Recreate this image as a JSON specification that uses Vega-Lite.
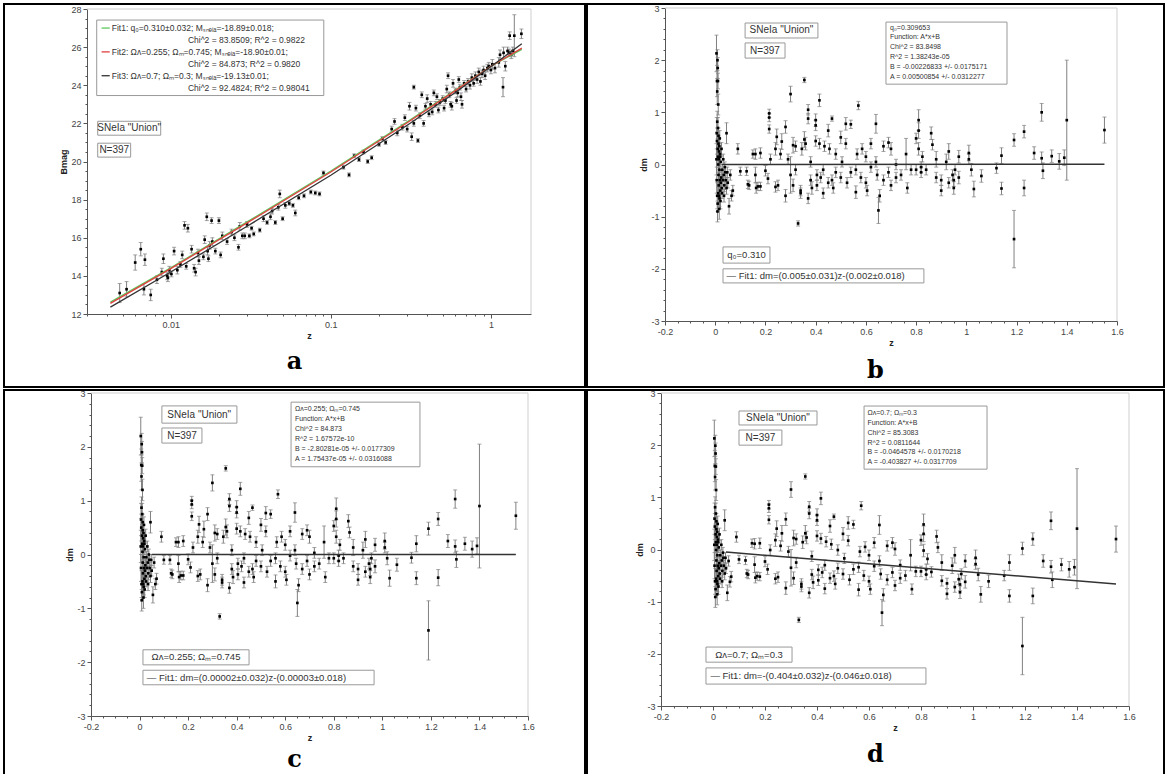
{
"$schema": "https://vega.github.io/schema/vega-lite/v6.json",
"background": "white",
"padding": {"left": 3, "top": 3, "right": 0, "bottom": 0},
"spacing": 0,
"config": {
 "view": {"stroke": "black", "strokeWidth": 2},
 "concat": {"spacing": 0},
 "axis": {"grid": false, "domainColor": "#555", "tickColor": "#555", "labelColor": "#444", "labelFont": "Liberation Sans", "labelFontSize": 9, "titleFont": "Liberation Sans", "titleFontSize": 9, "titleFontWeight": "bold", "titleColor": "#222", "labelPadding": 2, "titlePadding": 2, "labelOverlap": false, "labelFlush": false},
 "title": {"font": "DejaVu Serif", "fontSize": 24, "fontWeight": "bold", "color": "black", "orient": "bottom", "frame": "group", "anchor": "middle"},
 "text": {"font": "Liberation Sans", "color": "#333"},
 "rect": {"fill": "white", "stroke": "#999", "strokeWidth": 1}
},
"datasets": {
 "mag": [
{"z":0.0048,"m":13.1,"e":0.5},{"z":0.0053,"m":13.3,"e":0.4},{"z":0.006,"m":14.7,"e":0.4},{"z":0.0065,"m":15.4,"e":0.35},{"z":0.0069,"m":14.85,"e":0.3},{"z":0.0068,"m":13.3,"e":0.3},{"z":0.0075,"m":13.0,"e":0.3},{"z":0.0082,"m":13.8,"e":0.2},{"z":0.009,"m":14.9,"e":0.25},{"z":0.0088,"m":14.2,"e":0.2},{"z":0.0095,"m":14.0,"e":0.2},{"z":0.0096,"m":13.9,"e":0.2},{"z":0.0098,"m":14.3,"e":0.2},{"z":0.0101,"m":14.1,"e":0.15},{"z":0.0105,"m":15.3,"e":0.2},{"z":0.011,"m":14.3,"e":0.2},{"z":0.0115,"m":14.6,"e":0.15},{"z":0.0118,"m":15.1,"e":0.2},{"z":0.0122,"m":16.65,"e":0.2},{"z":0.0128,"m":16.5,"e":0.2},{"z":0.0125,"m":14.5,"e":0.15},{"z":0.0135,"m":15.4,"e":0.2},{"z":0.014,"m":14.4,"e":0.2},{"z":0.0143,"m":14.2,"e":0.2},{"z":0.0148,"m":15.2,"e":0.2},{"z":0.015,"m":14.8,"e":0.2},{"z":0.016,"m":15.0,"e":0.15},{"z":0.0163,"m":15.9,"e":0.2},{"z":0.017,"m":15.3,"e":0.2},{"z":0.0168,"m":17.1,"e":0.2},{"z":0.018,"m":16.9,"e":0.15},{"z":0.0172,"m":14.9,"e":0.15},{"z":0.0175,"m":15.6,"e":0.2},{"z":0.0182,"m":15.8,"e":0.2},{"z":0.019,"m":15.3,"e":0.15},{"z":0.02,"m":16.9,"e":0.15},{"z":0.0205,"m":15.1,"e":0.15},{"z":0.021,"m":16.1,"e":0.2},{"z":0.0225,"m":15.8,"e":0.15},{"z":0.024,"m":16.3,"e":0.15},{"z":0.025,"m":16.0,"e":0.15},{"z":0.0265,"m":15.5,"e":0.15},{"z":0.027,"m":16.6,"e":0.2},{"z":0.028,"m":16.1,"e":0.15},{"z":0.029,"m":16.1,"e":0.15},{"z":0.03,"m":16.7,"e":0.15},{"z":0.031,"m":16.1,"e":0.1},{"z":0.032,"m":16.5,"e":0.1},{"z":0.033,"m":16.2,"e":0.1},{"z":0.036,"m":16.4,"e":0.1},{"z":0.038,"m":17.0,"e":0.15},{"z":0.04,"m":16.8,"e":0.1},{"z":0.042,"m":17.1,"e":0.15},{"z":0.043,"m":17.4,"e":0.15},{"z":0.045,"m":16.8,"e":0.1},{"z":0.047,"m":17.6,"e":0.15},{"z":0.048,"m":18.3,"e":0.2},{"z":0.05,"m":17.0,"e":0.1},{"z":0.052,"m":17.7,"e":0.15},{"z":0.055,"m":17.8,"e":0.1},{"z":0.058,"m":17.7,"e":0.1},{"z":0.06,"m":17.3,"e":0.15},{"z":0.063,"m":18.1,"e":0.1},{"z":0.068,"m":18.2,"e":0.1},{"z":0.075,"m":18.4,"e":0.1},{"z":0.08,"m":18.35,"e":0.1},{"z":0.085,"m":18.3,"e":0.1},{"z":0.09,"m":19.4,"e":0.1},{"z":0.12,"m":19.7,"e":0.1},{"z":0.13,"m":19.3,"e":0.1},{"z":0.14,"m":20.3,"e":0.1},{"z":0.15,"m":20.1,"e":0.1},{"z":0.16,"m":20.5,"e":0.1},{"z":0.17,"m":20.0,"e":0.1},{"z":0.18,"m":20.2,"e":0.1},{"z":0.2,"m":20.9,"e":0.1},{"z":0.21,"m":21.2,"e":0.1},{"z":0.22,"m":21.0,"e":0.1},{"z":0.24,"m":21.7,"e":0.15},{"z":0.25,"m":22.1,"e":0.15},{"z":0.26,"m":21.5,"e":0.15},{"z":0.28,"m":21.8,"e":0.15},{"z":0.29,"m":22.3,"e":0.15},{"z":0.3,"m":21.7,"e":0.15},{"z":0.31,"m":22.9,"e":0.2},{"z":0.32,"m":21.3,"e":0.2},{"z":0.33,"m":22.0,"e":0.15},{"z":0.33,"m":23.9,"e":0.1},{"z":0.34,"m":22.8,"e":0.15},{"z":0.35,"m":21.1,"e":0.1},{"z":0.36,"m":22.4,"e":0.15},{"z":0.37,"m":23.5,"e":0.15},{"z":0.38,"m":22.0,"e":0.15},{"z":0.39,"m":22.9,"e":0.15},{"z":0.4,"m":23.3,"e":0.2},{"z":0.41,"m":22.5,"e":0.15},{"z":0.42,"m":23.0,"e":0.15},{"z":0.43,"m":22.6,"e":0.15},{"z":0.44,"m":23.6,"e":0.15},{"z":0.45,"m":23.0,"e":0.15},{"z":0.46,"m":23.4,"e":0.15},{"z":0.47,"m":22.7,"e":0.15},{"z":0.48,"m":23.1,"e":0.15},{"z":0.5,"m":23.3,"e":0.15},{"z":0.51,"m":22.8,"e":0.15},{"z":0.52,"m":23.2,"e":0.15},{"z":0.53,"m":23.8,"e":0.2},{"z":0.54,"m":24.5,"e":0.15},{"z":0.55,"m":23.5,"e":0.15},{"z":0.56,"m":23.0,"e":0.15},{"z":0.57,"m":22.9,"e":0.2},{"z":0.58,"m":24.1,"e":0.2},{"z":0.6,"m":23.7,"e":0.15},{"z":0.61,"m":23.2,"e":0.15},{"z":0.62,"m":23.6,"e":0.2},{"z":0.63,"m":24.3,"e":0.15},{"z":0.64,"m":23.9,"e":0.15},{"z":0.65,"m":23.4,"e":0.2},{"z":0.66,"m":23.0,"e":0.2},{"z":0.68,"m":24.1,"e":0.15},{"z":0.7,"m":23.8,"e":0.15},{"z":0.72,"m":24.2,"e":0.15},{"z":0.74,"m":24.0,"e":0.2},{"z":0.76,"m":24.4,"e":0.2},{"z":0.78,"m":24.1,"e":0.15},{"z":0.8,"m":24.5,"e":0.2},{"z":0.82,"m":24.3,"e":0.2},{"z":0.84,"m":24.7,"e":0.2},{"z":0.86,"m":24.2,"e":0.2},{"z":0.88,"m":24.6,"e":0.2},{"z":0.9,"m":24.8,"e":0.2},{"z":0.92,"m":24.5,"e":0.2},{"z":0.95,"m":24.9,"e":0.2},{"z":0.97,"m":25.0,"e":0.2},{"z":1.0,"m":24.8,"e":0.2},{"z":1.02,"m":25.1,"e":0.25},{"z":1.06,"m":24.9,"e":0.25},{"z":1.12,"m":25.2,"e":0.25},{"z":1.14,"m":25.6,"e":0.25},{"z":1.19,"m":23.9,"e":0.5},{"z":1.2,"m":25.7,"e":0.3},{"z":1.23,"m":25.0,"e":0.25},{"z":1.27,"m":25.8,"e":0.2},{"z":1.3,"m":25.7,"e":0.2},{"z":1.31,"m":26.6,"e":0.2},{"z":1.34,"m":25.6,"e":0.2},{"z":1.37,"m":25.8,"e":0.2},{"z":1.4,"m":26.6,"e":1.1},{"z":1.55,"m":26.7,"e":0.25}
 ],
 "fits": [
{"f":"Fit1","z":0.0042,"m":12.62},{"f":"Fit1","z":0.01,"m":14.42},{"f":"Fit1","z":0.03,"m":16.83},{"f":"Fit1","z":0.1,"m":19.5},{"f":"Fit1","z":0.3,"m":22.08},{"f":"Fit1","z":0.6,"m":23.75},{"f":"Fit1","z":1.0,"m":25.0},{"f":"Fit1","z":1.56,"m":25.88},
{"f":"Fit2","z":0.0042,"m":12.56},{"f":"Fit2","z":0.01,"m":14.38},{"f":"Fit2","z":0.03,"m":16.78},{"f":"Fit2","z":0.1,"m":19.45},{"f":"Fit2","z":0.3,"m":22.03},{"f":"Fit2","z":0.6,"m":23.72},{"f":"Fit2","z":1.0,"m":25.0},{"f":"Fit2","z":1.56,"m":25.95},
{"f":"Fit3","z":0.0042,"m":12.36},{"f":"Fit3","z":0.01,"m":14.2},{"f":"Fit3","z":0.03,"m":16.6},{"f":"Fit3","z":0.1,"m":19.28},{"f":"Fit3","z":0.3,"m":21.9},{"f":"Fit3","z":0.6,"m":23.62},{"f":"Fit3","z":1.0,"m":24.98},{"f":"Fit3","z":1.56,"m":26.18}
 ],
 "sn": [
{"z":0.005,"b":2.13,"c":2.2,"d":2.13,"e":0.35},{"z":0.007,"b":1.6,"c":1.66,"d":1.6,"e":0.3},{"z":0.008,"b":1.4,"c":1.45,"d":1.39,"e":0.25},{"z":0.009,"b":2.0,"c":2.05,"d":1.99,"e":0.2},{"z":0.01,"b":1.85,"c":1.9,"d":1.84,"e":0.2},{"z":0.011,"b":1.6,"c":1.65,"d":1.59,"e":0.15},{"z":0.012,"b":1.15,"c":1.2,"d":1.14,"e":0.2},{"z":0.006,"b":0.6,"c":0.65,"d":0.59,"e":0.3},{"z":0.007,"b":0.45,"c":0.5,"d":0.44,"e":0.25},{"z":0.008,"b":0.82,"c":0.87,"d":0.81,"e":0.2},{"z":0.01,"b":0.3,"c":0.35,"d":0.29,"e":0.2},{"z":0.011,"b":0.15,"c":0.2,"d":0.14,"e":0.15},{"z":0.012,"b":0.0,"c":0.05,"d":-0.01,"e":0.15},{"z":0.013,"b":-0.2,"c":-0.15,"d":-0.21,"e":0.15},{"z":0.014,"b":-0.4,"c":-0.35,"d":-0.41,"e":0.2},{"z":0.015,"b":-0.6,"c":-0.55,"d":-0.61,"e":0.2},{"z":0.009,"b":-0.9,"c":-0.85,"d":-0.91,"e":0.2},{"z":0.01,"b":-0.75,"c":-0.7,"d":-0.76,"e":0.15},{"z":0.016,"b":0.35,"c":0.4,"d":0.34,"e":0.15},{"z":0.017,"b":-0.1,"c":-0.05,"d":-0.11,"e":0.15},{"z":0.018,"b":-0.3,"c":-0.25,"d":-0.31,"e":0.15},{"z":0.019,"b":0.2,"c":0.25,"d":0.19,"e":0.15},{"z":0.02,"b":-0.5,"c":-0.45,"d":-0.51,"e":0.15},{"z":0.021,"b":-0.7,"c":-0.65,"d":-0.71,"e":0.15},{"z":0.022,"b":0.05,"c":0.1,"d":0.04,"e":0.1},{"z":0.024,"b":-0.25,"c":-0.2,"d":-0.26,"e":0.12},{"z":0.025,"b":0.3,"c":0.35,"d":0.29,"e":0.12},{"z":0.026,"b":-0.45,"c":-0.4,"d":-0.46,"e":0.12},{"z":0.028,"b":-0.1,"c":-0.05,"d":-0.11,"e":0.1},{"z":0.03,"b":-0.3,"c":-0.25,"d":-0.31,"e":0.1},{"z":0.032,"b":0.1,"c":0.15,"d":0.09,"e":0.1},{"z":0.034,"b":-0.2,"c":-0.15,"d":-0.21,"e":0.1},{"z":0.036,"b":-0.4,"c":-0.35,"d":-0.41,"e":0.12},{"z":0.038,"b":-0.05,"c":0.0,"d":-0.06,"e":0.1},{"z":0.04,"b":-0.15,"c":-0.1,"d":-0.16,"e":0.1},{"z":0.042,"b":-0.3,"c":-0.25,"d":-0.31,"e":0.1},{"z":0.045,"b":-0.45,"c":-0.4,"d":-0.46,"e":0.12},{"z":0.048,"b":-0.15,"c":-0.1,"d":-0.16,"e":0.1},{"z":0.05,"b":-0.35,"c":-0.3,"d":-0.36,"e":0.1},{"z":0.055,"b":-0.8,"c":-0.75,"d":-0.83,"e":0.15},{"z":0.06,"b":-0.2,"c":-0.15,"d":-0.22,"e":0.1},{"z":0.065,"b":-0.6,"c":-0.55,"d":-0.62,"e":0.1},{"z":0.07,"b":-0.5,"c":-0.45,"d":-0.52,"e":0.1},{"z":0.013,"b":0.55,"c":0.6,"d":0.54,"e":0.15},{"z":0.015,"b":0.25,"c":0.3,"d":0.24,"e":0.15},{"z":0.02,"b":0.15,"c":0.2,"d":0.14,"e":0.15},{"z":0.012,"b":-0.55,"c":-0.5,"d":-0.56,"e":0.2},{"z":0.014,"b":0.1,"c":0.15,"d":0.09,"e":0.2},{"z":0.016,"b":-0.85,"c":-0.8,"d":-0.86,"e":0.2},{"z":0.018,"b":0.5,"c":0.55,"d":0.49,"e":0.15},{"z":0.011,"b":0.7,"c":0.75,"d":0.69,"e":0.2},{"z":0.045,"b":0.6,"c":0.6,"d":0.56,"e":0.2},{"z":0.006,"b":-0.3,"c":-0.25,"d":-0.31,"e":0.25},{"z":0.008,"b":-0.6,"c":-0.55,"d":-0.61,"e":0.25},{"z":0.005,"b":0.1,"c":0.15,"d":0.09,"e":0.3},{"z":0.013,"b":0.4,"c":0.45,"d":0.39,"e":0.15},{"z":0.017,"b":-0.65,"c":-0.6,"d":-0.66,"e":0.15},{"z":0.022,"b":-0.35,"c":-0.3,"d":-0.36,"e":0.12},{"z":0.027,"b":-0.55,"c":-0.5,"d":-0.56,"e":0.1},{"z":0.035,"b":-0.6,"c":-0.55,"d":-0.61,"e":0.12},
{"z":0.09,"b":0.3,"c":0.33,"d":0.24,"e":0.1},{"z":0.1,"b":-0.13,"c":-0.1,"d":-0.19,"e":0.08},{"z":0.125,"b":-0.13,"c":-0.1,"d":-0.21,"e":0.08},{"z":0.13,"b":-0.38,"c":-0.35,"d":-0.46,"e":0.08},{"z":0.135,"b":-0.4,"c":-0.37,"d":-0.48,"e":0.08},{"z":0.15,"b":0.2,"c":0.23,"d":0.12,"e":0.08},{"z":0.16,"b":0.2,"c":0.23,"d":0.11,"e":0.1},{"z":0.16,"b":-0.2,"c":-0.17,"d":-0.29,"e":0.15},{"z":0.163,"b":-0.45,"c":-0.42,"d":-0.54,"e":0.1},{"z":0.17,"b":-0.42,"c":-0.39,"d":-0.51,"e":0.08},{"z":0.18,"b":-0.42,"c":-0.39,"d":-0.52,"e":0.08},{"z":0.18,"b":0.22,"c":0.25,"d":0.12,"e":0.1},{"z":0.2,"b":-0.12,"c":-0.09,"d":-0.23,"e":0.1},{"z":0.21,"b":-0.27,"c":-0.24,"d":-0.38,"e":0.1},{"z":0.215,"b":0.98,"c":1.0,"d":0.86,"e":0.08},{"z":0.215,"b":0.9,"c":0.93,"d":0.79,"e":0.08},{"z":0.215,"b":0.68,"c":0.71,"d":0.57,"e":0.08},{"z":0.22,"b":0.1,"c":0.13,"d":-0.01,"e":0.1},{"z":0.24,"b":0.3,"c":0.33,"d":0.18,"e":0.12},{"z":0.24,"b":-0.43,"c":-0.4,"d":-0.56,"e":0.1},{"z":0.245,"b":0.53,"c":0.56,"d":0.4,"e":0.15},{"z":0.25,"b":-0.4,"c":-0.37,"d":-0.53,"e":0.1},{"z":0.26,"b":0.2,"c":0.23,"d":0.07,"e":0.1},{"z":0.265,"b":0.44,"c":0.47,"d":0.31,"e":0.15},{"z":0.28,"b":0.72,"c":0.75,"d":0.58,"e":0.12},{"z":0.28,"b":-0.6,"c":-0.57,"d":-0.74,"e":0.12},{"z":0.29,"b":0.1,"c":0.13,"d":-0.04,"e":0.1},{"z":0.3,"b":1.35,"c":1.33,"d":1.15,"e":0.15},{"z":0.3,"b":-0.2,"c":-0.17,"d":-0.35,"e":0.35},{"z":0.31,"b":0.37,"c":0.4,"d":0.22,"e":0.15},{"z":0.31,"b":-0.4,"c":-0.37,"d":-0.55,"e":0.12},{"z":0.32,"b":0.35,"c":0.38,"d":0.2,"e":0.1},{"z":0.32,"b":-0.1,"c":-0.07,"d":-0.25,"e":0.1},{"z":0.33,"b":-1.13,"c":-1.15,"d":-1.35,"e":0.05},{"z":0.34,"b":-0.5,"c":-0.47,"d":-0.66,"e":0.1},{"z":0.34,"b":-0.55,"c":-0.52,"d":-0.71,"e":0.1},{"z":0.345,"b":0.3,"c":0.33,"d":0.14,"e":0.12},{"z":0.355,"b":1.62,"c":1.6,"d":1.4,"e":0.05},{"z":0.355,"b":0.48,"c":0.51,"d":0.31,"e":0.15},{"z":0.36,"b":0.4,"c":0.43,"d":0.23,"e":0.12},{"z":0.37,"b":1.05,"c":1.03,"d":0.82,"e":0.1},{"z":0.37,"b":0.88,"c":0.9,"d":0.69,"e":0.1},{"z":0.37,"b":-0.65,"c":-0.62,"d":-0.83,"e":0.1},{"z":0.38,"b":0.05,"c":0.08,"d":-0.13,"e":0.1},{"z":0.38,"b":-0.3,"c":-0.27,"d":-0.48,"e":0.1},{"z":0.385,"b":-0.45,"c":-0.42,"d":-0.63,"e":0.12},{"z":0.4,"b":0.85,"c":0.88,"d":0.66,"e":0.12},{"z":0.4,"b":0.75,"c":0.78,"d":0.56,"e":0.1},{"z":0.4,"b":0.45,"c":0.48,"d":0.26,"e":0.1},{"z":0.405,"b":-0.2,"c":-0.17,"d":-0.39,"e":0.1},{"z":0.405,"b":-0.4,"c":-0.37,"d":-0.59,"e":0.1},{"z":0.415,"b":1.23,"c":1.22,"d":0.98,"e":0.12},{"z":0.415,"b":0.4,"c":0.43,"d":0.21,"e":0.1},{"z":0.42,"b":-0.25,"c":-0.22,"d":-0.44,"e":0.1},{"z":0.43,"b":-0.1,"c":-0.07,"d":-0.3,"e":0.1},{"z":0.43,"b":-0.55,"c":-0.52,"d":-0.75,"e":0.1},{"z":0.435,"b":0.35,"c":0.38,"d":0.15,"e":0.1},{"z":0.45,"b":0.65,"c":0.68,"d":0.45,"e":0.12},{"z":0.45,"b":-0.35,"c":-0.32,"d":-0.55,"e":0.1},{"z":0.455,"b":0.3,"c":0.33,"d":0.1,"e":0.1},{"z":0.465,"b":0.88,"c":0.87,"d":0.63,"e":0.05},{"z":0.465,"b":-0.3,"c":-0.27,"d":-0.51,"e":0.1},{"z":0.47,"b":-0.45,"c":-0.42,"d":-0.66,"e":0.1},{"z":0.48,"b":0.2,"c":0.23,"d":-0.01,"e":0.1},{"z":0.48,"b":-0.15,"c":-0.12,"d":-0.36,"e":0.1},{"z":0.5,"b":0.52,"c":0.55,"d":0.3,"e":0.12},{"z":0.5,"b":-0.25,"c":-0.22,"d":-0.47,"e":0.1},{"z":0.505,"b":0.05,"c":0.08,"d":-0.17,"e":0.1},{"z":0.52,"b":0.78,"c":0.77,"d":0.51,"e":0.12},{"z":0.52,"b":0.4,"c":0.43,"d":0.17,"e":0.1},{"z":0.525,"b":-0.35,"c":-0.32,"d":-0.58,"e":0.1},{"z":0.54,"b":0.77,"c":0.75,"d":0.48,"e":0.08},{"z":0.54,"b":-0.15,"c":-0.12,"d":-0.38,"e":0.1},{"z":0.56,"b":-0.53,"c":-0.5,"d":-0.77,"e":0.12},{"z":0.56,"b":-0.1,"c":-0.07,"d":-0.34,"e":0.1},{"z":0.565,"b":0.2,"c":0.23,"d":-0.04,"e":0.1},{"z":0.57,"b":1.13,"c":1.12,"d":0.84,"e":0.08},{"z":0.58,"b":-0.25,"c":-0.22,"d":-0.5,"e":0.1},{"z":0.585,"b":0.3,"c":0.33,"d":0.05,"e":0.1},{"z":0.6,"b":0.15,"c":0.18,"d":-0.11,"e":0.1},{"z":0.6,"b":-0.35,"c":-0.32,"d":-0.61,"e":0.1},{"z":0.605,"b":-0.5,"c":-0.47,"d":-0.76,"e":0.1},{"z":0.62,"b":0.4,"c":0.43,"d":0.13,"e":0.1},{"z":0.62,"b":-0.05,"c":-0.02,"d":-0.32,"e":0.1},{"z":0.64,"b":0.78,"c":0.78,"d":0.47,"e":0.18},{"z":0.64,"b":0.05,"c":0.08,"d":-0.22,"e":0.1},{"z":0.645,"b":-0.2,"c":-0.17,"d":-0.47,"e":0.1},{"z":0.65,"b":-0.88,"c":-0.9,"d":-1.21,"e":0.25},{"z":0.655,"b":-0.6,"c":-0.57,"d":-0.87,"e":0.12},{"z":0.67,"b":0.35,"c":0.38,"d":0.07,"e":0.1},{"z":0.67,"b":-0.3,"c":-0.27,"d":-0.58,"e":0.1},{"z":0.69,"b":0.42,"c":0.45,"d":0.13,"e":0.1},{"z":0.69,"b":-0.15,"c":-0.12,"d":-0.44,"e":0.1},{"z":0.7,"b":0.3,"c":0.33,"d":0.01,"e":0.12},{"z":0.7,"b":-0.4,"c":-0.37,"d":-0.69,"e":0.1},{"z":0.72,"b":0.0,"c":0.03,"d":-0.3,"e":0.1},{"z":0.72,"b":-0.25,"c":-0.22,"d":-0.55,"e":0.1},{"z":0.74,"b":-0.2,"c":-0.17,"d":-0.5,"e":0.1},{"z":0.76,"b":0.2,"c":0.23,"d":-0.11,"e":0.3},{"z":0.765,"b":-0.45,"c":-0.42,"d":-0.76,"e":0.1},{"z":0.78,"b":-0.1,"c":-0.07,"d":-0.42,"e":0.1},{"z":0.8,"b":0.5,"c":0.53,"d":0.18,"e":0.1},{"z":0.8,"b":-0.1,"c":-0.07,"d":-0.42,"e":0.1},{"z":0.81,"b":0.85,"c":0.85,"d":0.48,"e":0.2},{"z":0.81,"b":0.65,"c":0.66,"d":0.3,"e":0.15},{"z":0.81,"b":0.3,"c":0.33,"d":-0.02,"e":0.12},{"z":0.82,"b":-0.05,"c":-0.02,"d":-0.38,"e":0.1},{"z":0.82,"b":-0.15,"c":-0.12,"d":-0.48,"e":0.1},{"z":0.825,"b":0.15,"c":0.18,"d":-0.18,"e":0.1},{"z":0.84,"b":-0.1,"c":-0.07,"d":-0.43,"e":0.1},{"z":0.86,"b":0.6,"c":0.62,"d":0.25,"e":0.12},{"z":0.865,"b":0.38,"c":0.41,"d":0.04,"e":0.1},{"z":0.88,"b":0.1,"c":0.13,"d":-0.25,"e":0.15},{"z":0.88,"b":-0.25,"c":-0.22,"d":-0.6,"e":0.1},{"z":0.9,"b":-0.5,"c":-0.47,"d":-0.85,"e":0.1},{"z":0.9,"b":-0.3,"c":-0.27,"d":-0.65,"e":0.1},{"z":0.92,"b":0.05,"c":0.08,"d":-0.31,"e":0.15},{"z":0.93,"b":0.25,"c":0.28,"d":-0.11,"e":0.15},{"z":0.93,"b":-0.35,"c":-0.32,"d":-0.72,"e":0.1},{"z":0.945,"b":-0.2,"c":-0.17,"d":-0.57,"e":0.1},{"z":0.95,"b":-0.3,"c":-0.27,"d":-0.67,"e":0.12},{"z":0.95,"b":-0.45,"c":-0.42,"d":-0.82,"e":0.12},{"z":0.955,"b":-0.1,"c":-0.07,"d":-0.47,"e":0.1},{"z":0.97,"b":0.15,"c":0.18,"d":-0.22,"e":0.12},{"z":0.97,"b":-0.25,"c":-0.22,"d":-0.62,"e":0.12},{"z":1.01,"b":0.22,"c":0.25,"d":-0.16,"e":0.15},{"z":1.01,"b":0.1,"c":0.13,"d":-0.28,"e":0.1},{"z":1.02,"b":-0.1,"c":-0.07,"d":-0.48,"e":0.12},{"z":1.03,"b":-0.47,"c":-0.44,"d":-0.86,"e":0.15},{"z":1.06,"b":-0.22,"c":-0.19,"d":-0.61,"e":0.12},{"z":1.12,"b":-0.07,"c":-0.06,"d":-0.5,"e":0.1},{"z":1.14,"b":0.17,"c":0.2,"d":-0.25,"e":0.15},{"z":1.14,"b":-0.46,"c":-0.44,"d":-0.89,"e":0.12},{"z":1.19,"b":0.47,"c":0.48,"d":0.02,"e":0.12},{"z":1.19,"b":-1.43,"c":-1.41,"d":-1.85,"e":0.55},{"z":1.23,"b":0.63,"c":0.66,"d":0.2,"e":0.12},{"z":1.23,"b":-0.45,"c":-0.43,"d":-0.89,"e":0.15},{"z":1.27,"b":0.22,"c":0.25,"d":-0.22,"e":0.12},{"z":1.3,"b":1.0,"c":1.03,"d":0.55,"e":0.17},{"z":1.3,"b":0.12,"c":0.15,"d":-0.33,"e":0.12},{"z":1.305,"b":-0.12,"c":-0.09,"d":-0.58,"e":0.15},{"z":1.34,"b":0.16,"c":0.2,"d":-0.29,"e":0.12},{"z":1.37,"b":0.06,"c":0.1,"d":-0.38,"e":0.15},{"z":1.39,"b":0.13,"c":0.16,"d":-0.34,"e":0.15},{"z":1.4,"b":0.85,"c":0.9,"d":0.4,"e":1.15},{"z":1.55,"b":0.66,"c":0.72,"d":0.2,"e":0.25}
 ]
},
"vconcat": [
{"spacing": 0, "hconcat": [
 {"width": 581, "height": 383,
  "title": {"text": "a", "offset": -37},
  "layer": [
   {"data": {"values": [{}]}, "mark": {"type": "rule", "color": "#cfcfcf"}, "encoding": {"x": {"datum": 0.003}, "x2": {"datum": 1.78}, "y": {"datum": 28}}},
   {"data": {"values": [{}]}, "mark": {"type": "rule", "color": "#cfcfcf"}, "encoding": {"x": {"datum": 1.78}, "y": {"datum": 12}, "y2": {"datum": 28}}},
   {"data": {"name": "mag"}, "mark": {"type": "errorbar", "ticks": {"size": 4}, "color": "#808080", "thickness": 1},
    "encoding": {
     "x": {"field": "z", "type": "quantitative", "title": "z", "scale": {"type": "log", "domain": [0.003, 1.78], "range": [83, 527], "nice": false},
       "axis": {"title": "z", "offset": -73, "tickCount": 200, "labelOverlap": false, "values": [0.003,0.004,0.005,0.006,0.007,0.008,0.009,0.01,0.02,0.03,0.04,0.05,0.06,0.07,0.08,0.09,0.1,0.2,0.3,0.4,0.5,0.6,0.7,0.8,0.9,1], "labelExpr": "(datum.value==0.01||datum.value==0.1||datum.value==1) ? ''+datum.value : ''", "tickSize": {"condition": {"test": "datum.value==0.01||datum.value==0.1||datum.value==1", "value": 4}, "value": 2}}},
     "y": {"field": "m", "type": "quantitative", "title": "Bmag", "scale": {"domain": [12, 28], "range": [310, 5], "nice": false, "zero": false},
       "axis": {"title": "Bmag", "offset": -83, "tickCount": 200, "labelOverlap": false, "values": [12,12.5,13,13.5,14,14.5,15,15.5,16,16.5,17,17.5,18,18.5,19,19.5,20,20.5,21,21.5,22,22.5,23,23.5,24,24.5,25,25.5,26,26.5,27,27.5,28], "labelExpr": "abs(round(datum.value*2)%4)==0 ? ''+datum.value : ''", "tickSize": {"condition": {"test": "abs(round(datum.value*2)%4)==0", "value": 4}, "value": 2}}},
     "yError": {"field": "e"}}},
   {"data": {"name": "mag"}, "mark": {"type": "square", "size": 7, "color": "black", "opacity": 1, "filled": true},
    "encoding": {"x": {"field": "z", "type": "quantitative", "title": "z"}, "y": {"field": "m", "type": "quantitative", "title": "Bmag"}}},
   {"data": {"name": "fits"}, "mark": {"type": "line", "strokeWidth": 1.3},
    "encoding": {"x": {"field": "z", "type": "quantitative", "title": "z"}, "y": {"field": "m", "type": "quantitative", "title": "Bmag"},
     "color": {"field": "f", "type": "nominal", "scale": {"domain": ["Fit1", "Fit2", "Fit3"], "range": ["#5cc85c", "#e04040", "#333333"]}, "legend": null}}},
   {"data": {"values": [{}]}, "mark": {"type": "rect"}, "encoding": {"x": {"datum": 0.00345}, "x2": {"datum": 0.0904}, "y": {"datum": 27.42}, "y2": {"datum": 23.46}}},
   {"data": {"values": [{}]}, "mark": {"type": "rule", "color": "#5cc85c", "strokeWidth": 1.3}, "encoding": {"x": {"datum": 0.0037}, "x2": {"datum": 0.00416}, "y": {"datum": 27.0}}},
   {"data": {"values": [{}]}, "mark": {"type": "rule", "color": "#e04040", "strokeWidth": 1.3}, "encoding": {"x": {"datum": 0.0037}, "x2": {"datum": 0.00416}, "y": {"datum": 25.75}}},
   {"data": {"values": [{}]}, "mark": {"type": "rule", "color": "#333333", "strokeWidth": 1.3}, "encoding": {"x": {"datum": 0.0037}, "x2": {"datum": 0.00416}, "y": {"datum": 24.5}}},
   {"data": {"values": [{}]}, "mark": {"type": "text", "align": "left", "baseline": "middle", "fontSize": 8.5, "text": "Fit1: q₀=0.310±0.032; Mₛₙₑᵢₐ=-18.89±0.018;"}, "encoding": {"x": {"datum": 0.00428}, "y": {"datum": 27.0}}},
   {"data": {"values": [{}]}, "mark": {"type": "text", "align": "left", "baseline": "middle", "fontSize": 8.5, "text": "Chi^2 = 83.8509; R^2 = 0.9822"}, "encoding": {"x": {"datum": 0.0128}, "y": {"datum": 26.37}}},
   {"data": {"values": [{}]}, "mark": {"type": "text", "align": "left", "baseline": "middle", "fontSize": 8.5, "text": "Fit2: Ωᴧ=0.255; Ωₘ=0.745; Mₛₙₑᵢₐ=-18.90±0.01;"}, "encoding": {"x": {"datum": 0.00428}, "y": {"datum": 25.75}}},
   {"data": {"values": [{}]}, "mark": {"type": "text", "align": "left", "baseline": "middle", "fontSize": 8.5, "text": "Chi^2 = 84.873; R^2 = 0.9820"}, "encoding": {"x": {"datum": 0.0128}, "y": {"datum": 25.12}}},
   {"data": {"values": [{}]}, "mark": {"type": "text", "align": "left", "baseline": "middle", "fontSize": 8.5, "text": "Fit3: Ωᴧ=0.7; Ωₘ=0.3; Mₛₙₑᵢₐ=-19.13±0.01;"}, "encoding": {"x": {"datum": 0.00428}, "y": {"datum": 24.5}}},
   {"data": {"values": [{}]}, "mark": {"type": "text", "align": "left", "baseline": "middle", "fontSize": 8.5, "text": "Chi^2 = 92.4824; R^2 = 0.98041"}, "encoding": {"x": {"datum": 0.0128}, "y": {"datum": 23.87}}},
   {"data": {"values": [{}]}, "mark": {"type": "rect"}, "encoding": {"x": {"datum": 0.0035}, "x2": {"datum": 0.00866}, "y": {"datum": 22.11}, "y2": {"datum": 21.38}}},
   {"data": {"values": [{}]}, "mark": {"type": "text", "align": "center", "baseline": "middle", "fontSize": 10, "text": "SNeIa \"Union\""}, "encoding": {"x": {"datum": 0.0055}, "y": {"datum": 21.75}}},
   {"data": {"values": [{}]}, "mark": {"type": "rect"}, "encoding": {"x": {"datum": 0.0035}, "x2": {"datum": 0.00562}, "y": {"datum": 20.96}, "y2": {"datum": 20.23}}},
   {"data": {"values": [{}]}, "mark": {"type": "text", "align": "center", "baseline": "middle", "fontSize": 10, "text": "N=397"}, "encoding": {"x": {"datum": 0.00444}, "y": {"datum": 20.6}}}
  ]},
 {"width": 577, "height": 383,
  "title": {"text": "b", "offset": -28},
  "layer": [
   {"data": {"values": [{}]}, "mark": {"type": "rule", "color": "#cfcfcf"}, "encoding": {"x": {"datum": -0.2}, "x2": {"datum": 1.6}, "y": {"datum": 3}}},
   {"data": {"values": [{}]}, "mark": {"type": "rule", "color": "#cfcfcf"}, "encoding": {"x": {"datum": 1.6}, "y": {"datum": -3}, "y2": {"datum": 3}}},
   {"data": {"name": "sn"}, "mark": {"type": "errorbar", "ticks": {"size": 4}, "color": "#808080", "thickness": 1},
    "encoding": {
     "x": {"field": "z", "type": "quantitative", "title": "z", "scale": {"domain": [-0.2, 1.6], "range": [78, 530], "nice": false, "zero": false},
       "axis": {"title": "z", "offset": -66, "tickCount": 200, "labelOverlap": false, "values": [-0.2,-0.15,-0.1,-0.05,0,0.05,0.1,0.15,0.2,0.25,0.3,0.35,0.4,0.45,0.5,0.55,0.6,0.65,0.7,0.75,0.8,0.85,0.9,0.95,1,1.05,1.1,1.15,1.2,1.25,1.3,1.35,1.4,1.45,1.5,1.55,1.6], "labelExpr": "abs(round(datum.value*20)%4)==0 ? ''+datum.value : ''", "tickSize": {"condition": {"test": "abs(round(datum.value*20)%4)==0", "value": 4}, "value": 2}}},
     "y": {"field": "b", "type": "quantitative", "title": "dm", "scale": {"domain": [-3, 3], "range": [317, 4], "nice": false, "zero": false},
       "axis": {"title": "dm", "offset": -78, "tickCount": 200, "labelOverlap": false, "values": [-3,-2.8,-2.6,-2.4,-2.2,-2,-1.8,-1.6,-1.4,-1.2,-1,-0.8,-0.6,-0.4,-0.2,0,0.2,0.4,0.6,0.8,1,1.2,1.4,1.6,1.8,2,2.2,2.4,2.6,2.8,3], "labelExpr": "abs(round(datum.value*5)%5)==0 ? ''+datum.value : ''", "tickSize": {"condition": {"test": "abs(round(datum.value*5)%5)==0", "value": 4}, "value": 2}}},
     "yError": {"field": "e"}}},
   {"data": {"name": "sn"}, "mark": {"type": "square", "size": 7, "color": "black", "opacity": 1, "filled": true},
    "encoding": {"x": {"field": "z", "type": "quantitative", "title": "z"}, "y": {"field": "b", "type": "quantitative", "title": "dm"}}},
   {"data": {"values": [{"z": 0.027, "y": -0.002}, {"z": 1.55, "y": 0.006}]}, "mark": {"type": "line", "color": "#333", "strokeWidth": 1.5},
    "encoding": {"x": {"field": "z", "type": "quantitative", "title": "z"}, "y": {"field": "y", "type": "quantitative", "title": "dm"}}},
   {"data": {"values": [{}]}, "mark": {"type": "rect"}, "encoding": {"x": {"datum": 0.119}, "x2": {"datum": 0.409}, "y": {"datum": 2.712}, "y2": {"datum": 2.425}}},
   {"data": {"values": [{}]}, "mark": {"type": "text", "align": "center", "baseline": "middle", "fontSize": 10, "text": "SNeIa \"Union\""}, "encoding": {"x": {"datum": 0.264}, "y": {"datum": 2.57}}},
   {"data": {"values": [{}]}, "mark": {"type": "rect"}, "encoding": {"x": {"datum": 0.119}, "x2": {"datum": 0.278}, "y": {"datum": 2.33}, "y2": {"datum": 2.04}}},
   {"data": {"values": [{}]}, "mark": {"type": "text", "align": "center", "baseline": "middle", "fontSize": 10, "text": "N=397"}, "encoding": {"x": {"datum": 0.198}, "y": {"datum": 2.185}}},
   {"data": {"values": [{}]}, "mark": {"type": "rect"}, "encoding": {"x": {"datum": 0.68}, "x2": {"datum": 1.162}, "y": {"datum": 2.73}, "y2": {"datum": 1.54}}},
   {"data": {"values": [{}]}, "mark": {"type": "text", "align": "left", "baseline": "top", "fontSize": 7, "lineHeight": 9.8, "text": ["q₀=0.309653", "Function: A*x+B", "Chi^2 = 83.8498", "R^2 = 1.38243e-05", "B = -0.00226833 +/- 0.0175171", "A = 0.00500854 +/- 0.0312277"]}, "encoding": {"x": {"datum": 0.696}, "y": {"datum": 2.7}}},
   {"data": {"values": [{}]}, "mark": {"type": "rect"}, "encoding": {"x": {"datum": 0.031}, "x2": {"datum": 0.218}, "y": {"datum": -1.58}, "y2": {"datum": -1.89}}},
   {"data": {"values": [{}]}, "mark": {"type": "text", "align": "center", "baseline": "middle", "fontSize": 9.5, "text": "q₀=0.310"}, "encoding": {"x": {"datum": 0.125}, "y": {"datum": -1.735}}},
   {"data": {"values": [{}]}, "mark": {"type": "rect"}, "encoding": {"x": {"datum": 0.031}, "x2": {"datum": 0.831}, "y": {"datum": -2.0}, "y2": {"datum": -2.27}}},
   {"data": {"values": [{}]}, "mark": {"type": "text", "align": "left", "baseline": "middle", "fontSize": 9.5, "text": "— Fit1: dm=(0.005±0.031)z-(0.002±0.018)"}, "encoding": {"x": {"datum": 0.045}, "y": {"datum": -2.135}}}
  ]}
]},
{"spacing": 0, "hconcat": [
 {"width": 581, "height": 385,
  "title": {"text": "c", "offset": -27},
  "layer": [
   {"data": {"values": [{}]}, "mark": {"type": "rule", "color": "#cfcfcf"}, "encoding": {"x": {"datum": -0.2}, "x2": {"datum": 1.6}, "y": {"datum": 3}}},
   {"data": {"values": [{}]}, "mark": {"type": "rule", "color": "#cfcfcf"}, "encoding": {"x": {"datum": 1.6}, "y": {"datum": -3}, "y2": {"datum": 3}}},
   {"data": {"name": "sn"}, "mark": {"type": "errorbar", "ticks": {"size": 4}, "color": "#808080", "thickness": 1},
    "encoding": {
     "x": {"field": "z", "type": "quantitative", "title": "z", "scale": {"domain": [-0.2, 1.6], "range": [87, 524], "nice": false, "zero": false},
       "axis": {"title": "z", "offset": -59, "tickCount": 200, "labelOverlap": false, "values": [-0.2,-0.15,-0.1,-0.05,0,0.05,0.1,0.15,0.2,0.25,0.3,0.35,0.4,0.45,0.5,0.55,0.6,0.65,0.7,0.75,0.8,0.85,0.9,0.95,1,1.05,1.1,1.15,1.2,1.25,1.3,1.35,1.4,1.45,1.5,1.55,1.6], "labelExpr": "abs(round(datum.value*20)%4)==0 ? ''+datum.value : ''", "tickSize": {"condition": {"test": "abs(round(datum.value*20)%4)==0", "value": 4}, "value": 2}}},
     "y": {"field": "c", "type": "quantitative", "title": "dm", "scale": {"domain": [-3, 3], "range": [326, 3], "nice": false, "zero": false},
       "axis": {"title": "dm", "offset": -87, "tickCount": 200, "labelOverlap": false, "values": [-3,-2.8,-2.6,-2.4,-2.2,-2,-1.8,-1.6,-1.4,-1.2,-1,-0.8,-0.6,-0.4,-0.2,0,0.2,0.4,0.6,0.8,1,1.2,1.4,1.6,1.8,2,2.2,2.4,2.6,2.8,3], "labelExpr": "abs(round(datum.value*5)%5)==0 ? ''+datum.value : ''", "tickSize": {"condition": {"test": "abs(round(datum.value*5)%5)==0", "value": 4}, "value": 2}}},
     "yError": {"field": "e"}}},
   {"data": {"name": "sn"}, "mark": {"type": "square", "size": 7, "color": "black", "opacity": 1, "filled": true},
    "encoding": {"x": {"field": "z", "type": "quantitative", "title": "z"}, "y": {"field": "c", "type": "quantitative", "title": "dm"}}},
   {"data": {"values": [{"z": 0.05, "y": 0.0}, {"z": 1.55, "y": 0.0}]}, "mark": {"type": "line", "color": "#333", "strokeWidth": 1.5},
    "encoding": {"x": {"field": "z", "type": "quantitative", "title": "z"}, "y": {"field": "y", "type": "quantitative", "title": "dm"}}},
   {"data": {"values": [{}]}, "mark": {"type": "rect"}, "encoding": {"x": {"datum": 0.092}, "x2": {"datum": 0.401}, "y": {"datum": 2.76}, "y2": {"datum": 2.44}}},
   {"data": {"values": [{}]}, "mark": {"type": "text", "align": "center", "baseline": "middle", "fontSize": 10, "text": "SNeIa \"Union\""}, "encoding": {"x": {"datum": 0.246}, "y": {"datum": 2.6}}},
   {"data": {"values": [{}]}, "mark": {"type": "rect"}, "encoding": {"x": {"datum": 0.092}, "x2": {"datum": 0.257}, "y": {"datum": 2.35}, "y2": {"datum": 2.07}}},
   {"data": {"values": [{}]}, "mark": {"type": "text", "align": "center", "baseline": "middle", "fontSize": 10, "text": "N=397"}, "encoding": {"x": {"datum": 0.175}, "y": {"datum": 2.21}}},
   {"data": {"values": [{}]}, "mark": {"type": "rect"}, "encoding": {"x": {"datum": 0.624}, "x2": {"datum": 1.155}, "y": {"datum": 2.83}, "y2": {"datum": 1.63}}},
   {"data": {"values": [{}]}, "mark": {"type": "text", "align": "left", "baseline": "top", "fontSize": 7, "lineHeight": 10, "text": ["Ωᴧ=0.255; Ωₘ=0.745", "Function: A*x+B", "Chi^2 = 84.873", "R^2 = 1.67572e-10", "B = -2.80281e-05 +/- 0.0177309", "A = 1.75437e-05 +/- 0.0316088"]}, "encoding": {"x": {"datum": 0.64}, "y": {"datum": 2.78}}},
   {"data": {"values": [{}]}, "mark": {"type": "rect"}, "encoding": {"x": {"datum": 0.014}, "x2": {"datum": 0.451}, "y": {"datum": -1.77}, "y2": {"datum": -2.05}}},
   {"data": {"values": [{}]}, "mark": {"type": "text", "align": "center", "baseline": "middle", "fontSize": 9.5, "text": "Ωᴧ=0.255; Ωₘ=0.745"}, "encoding": {"x": {"datum": 0.2325}, "y": {"datum": -1.91}}},
   {"data": {"values": [{}]}, "mark": {"type": "rect"}, "encoding": {"x": {"datum": 0.014}, "x2": {"datum": 0.966}, "y": {"datum": -2.15}, "y2": {"datum": -2.42}}},
   {"data": {"values": [{}]}, "mark": {"type": "text", "align": "left", "baseline": "middle", "fontSize": 9.5, "text": "— Fit1: dm=(0.00002±0.032)z-(0.00003±0.018)"}, "encoding": {"x": {"datum": 0.03}, "y": {"datum": -2.285}}}
  ]},
 {"width": 577, "height": 385,
  "title": {"text": "d", "offset": -32},
  "layer": [
   {"data": {"values": [{}]}, "mark": {"type": "rule", "color": "#cfcfcf"}, "encoding": {"x": {"datum": -0.2}, "x2": {"datum": 1.6}, "y": {"datum": 3}}},
   {"data": {"values": [{}]}, "mark": {"type": "rule", "color": "#cfcfcf"}, "encoding": {"x": {"datum": 1.6}, "y": {"datum": -3}, "y2": {"datum": 3}}},
   {"data": {"name": "sn"}, "mark": {"type": "errorbar", "ticks": {"size": 4}, "color": "#808080", "thickness": 1},
    "encoding": {
     "x": {"field": "z", "type": "quantitative", "title": "z", "scale": {"domain": [-0.2, 1.6], "range": [74, 542], "nice": false, "zero": false},
       "axis": {"title": "z", "offset": -69, "tickCount": 200, "labelOverlap": false, "values": [-0.2,-0.15,-0.1,-0.05,0,0.05,0.1,0.15,0.2,0.25,0.3,0.35,0.4,0.45,0.5,0.55,0.6,0.65,0.7,0.75,0.8,0.85,0.9,0.95,1,1.05,1.1,1.15,1.2,1.25,1.3,1.35,1.4,1.45,1.5,1.55,1.6], "labelExpr": "abs(round(datum.value*20)%4)==0 ? ''+datum.value : ''", "tickSize": {"condition": {"test": "abs(round(datum.value*20)%4)==0", "value": 4}, "value": 2}}},
     "y": {"field": "d", "type": "quantitative", "title": "dm", "scale": {"domain": [-3, 3], "range": [316, 3], "nice": false, "zero": false},
       "axis": {"title": "dm", "offset": -74, "tickCount": 200, "labelOverlap": false, "values": [-3,-2.8,-2.6,-2.4,-2.2,-2,-1.8,-1.6,-1.4,-1.2,-1,-0.8,-0.6,-0.4,-0.2,0,0.2,0.4,0.6,0.8,1,1.2,1.4,1.6,1.8,2,2.2,2.4,2.6,2.8,3], "labelExpr": "abs(round(datum.value*5)%5)==0 ? ''+datum.value : ''", "tickSize": {"condition": {"test": "abs(round(datum.value*5)%5)==0", "value": 4}, "value": 2}}},
     "yError": {"field": "e"}}},
   {"data": {"name": "sn"}, "mark": {"type": "square", "size": 7, "color": "black", "opacity": 1, "filled": true},
    "encoding": {"x": {"field": "z", "type": "quantitative", "title": "z"}, "y": {"field": "d", "type": "quantitative", "title": "dm"}}},
   {"data": {"values": [{"z": 0.05, "y": -0.05}, {"z": 1.55, "y": -0.66}]}, "mark": {"type": "line", "color": "#333", "strokeWidth": 1.5},
    "encoding": {"x": {"field": "z", "type": "quantitative", "title": "z"}, "y": {"field": "y", "type": "quantitative", "title": "dm"}}},
   {"data": {"values": [{}]}, "mark": {"type": "rect"}, "encoding": {"x": {"datum": 0.1}, "x2": {"datum": 0.4}, "y": {"datum": 2.655}, "y2": {"datum": 2.387}}},
   {"data": {"values": [{}]}, "mark": {"type": "text", "align": "center", "baseline": "middle", "fontSize": 10, "text": "SNeIa \"Union\""}, "encoding": {"x": {"datum": 0.25}, "y": {"datum": 2.52}}},
   {"data": {"values": [{}]}, "mark": {"type": "rect"}, "encoding": {"x": {"datum": 0.1}, "x2": {"datum": 0.265}, "y": {"datum": 2.29}, "y2": {"datum": 2.0}}},
   {"data": {"values": [{}]}, "mark": {"type": "text", "align": "center", "baseline": "middle", "fontSize": 10, "text": "N=397"}, "encoding": {"x": {"datum": 0.1825}, "y": {"datum": 2.145}}},
   {"data": {"values": [{}]}, "mark": {"type": "rect"}, "encoding": {"x": {"datum": 0.581}, "x2": {"datum": 1.054}, "y": {"datum": 2.75}, "y2": {"datum": 1.54}}},
   {"data": {"values": [{}]}, "mark": {"type": "text", "align": "left", "baseline": "top", "fontSize": 7, "lineHeight": 9.8, "text": ["Ωᴧ=0.7; Ωₘ=0.3", "Function: A*x+B", "Chi^2 = 85.3083", "R^2 = 0.0811644", "B = -0.0464578 +/- 0.0170218", "A = -0.403827 +/- 0.0317709"]}, "encoding": {"x": {"datum": 0.594}, "y": {"datum": 2.69}}},
   {"data": {"values": [{}]}, "mark": {"type": "rect"}, "encoding": {"x": {"datum": -0.027}, "x2": {"datum": 0.304}, "y": {"datum": -1.87}, "y2": {"datum": -2.16}}},
   {"data": {"values": [{}]}, "mark": {"type": "text", "align": "center", "baseline": "middle", "fontSize": 9.5, "text": "Ωᴧ=0.7; Ωₘ=0.3"}, "encoding": {"x": {"datum": 0.1385}, "y": {"datum": -2.015}}},
   {"data": {"values": [{}]}, "mark": {"type": "rect"}, "encoding": {"x": {"datum": -0.027}, "x2": {"datum": 0.819}, "y": {"datum": -2.27}, "y2": {"datum": -2.58}}},
   {"data": {"values": [{}]}, "mark": {"type": "text", "align": "left", "baseline": "middle", "fontSize": 9.5, "text": "— Fit1: dm=-(0.404±0.032)z-(0.046±0.018)"}, "encoding": {"x": {"datum": -0.01}, "y": {"datum": -2.425}}}
  ]}
]}
]
}
